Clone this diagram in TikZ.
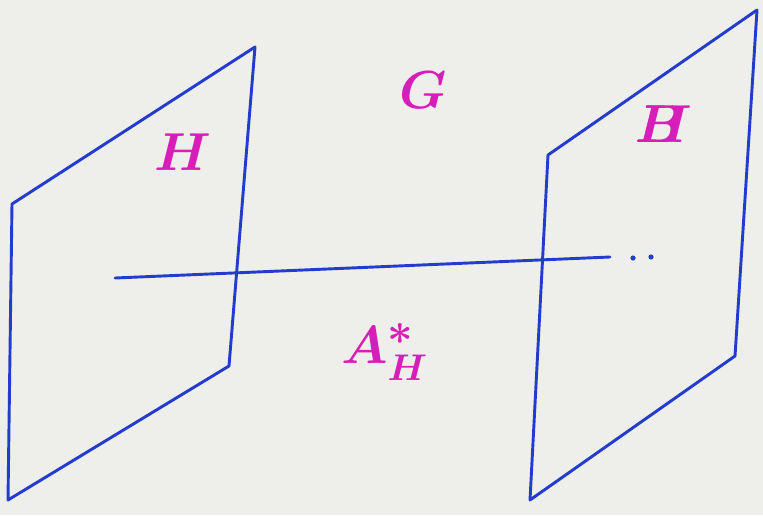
\documentclass[tikz,border=0pt]{standalone}
\definecolor{inkblue}{RGB}{35,60,205}
\definecolor{inkpink}{RGB}{215,30,185}
\definecolor{paper}{RGB}{238,238,234}
\tikzset{
  plane/.style={inkblue,line width=2.2pt,line join=round,line cap=round},
  lbl/.style={inkpink,font=\Large\boldmath,scale=2.8}
}
\begin{document}
\begin{tikzpicture}[x=0.0265cm,y=-0.0265cm]
  \fill[paper] (0,0) rectangle (763,515);
  \useasboundingbox (0,0) rectangle (763,515);
  % left plane
  \draw[plane] (12,204) -- (255,47) -- (229,366) -- (8,500) -- cycle;
  % right plane
  \draw[plane] (548,155) -- (757,10) -- (735,356) -- (530,500) -- cycle;
  % line through both
  \coordinate (l) at (115,278);
  \coordinate (r) at (610,257);
  \draw[plane] (l) -- (r);
  \fill[inkblue] (633,258) circle (2.6) (651,257) circle (2.6);
  % labels
  \node[lbl] (hl) at (183,152) {$H$};
  \node[lbl] (g) at (423,90) {$G$};
  \node[lbl] (hr) at (660,124) {\rlap{$H$}$B$};
  \node[lbl] (a) at (385,352) {$A_H^{\mbox{\large$*$}}$};
\end{tikzpicture}
\end{document}
